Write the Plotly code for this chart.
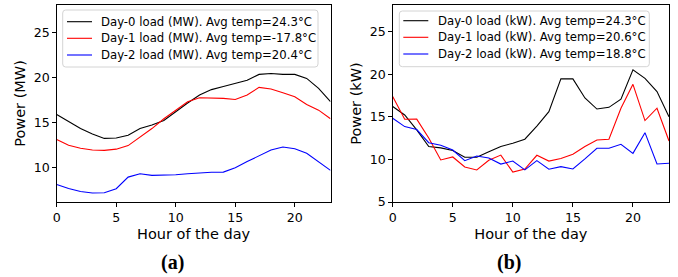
import plotly.graph_objects as go

hours = list(range(24))

# Panel (a) - MW
a_day0 = [15.87, 15.05, 14.3, 13.7, 13.2, 13.25, 13.55, 14.3, 14.7, 15.2, 16.2, 17.15,
          18.05, 18.65, 19.0, 19.35, 19.7, 20.35, 20.45, 20.35, 20.35, 19.9, 18.8, 17.3]
a_day1 = [13.07, 12.43, 12.1, 11.9, 11.87, 12.0, 12.4, 13.3, 14.3, 15.4, 16.4, 17.3,
          17.75, 17.72, 17.67, 17.55, 18.04, 18.9, 18.72, 18.3, 17.85, 17.0, 16.36, 15.4]
a_day2 = [8.06, 7.6, 7.28, 7.1, 7.13, 7.58, 8.88, 9.25, 9.07, 9.07, 9.15, 9.25,
          9.35, 9.42, 9.44, 9.93, 10.62, 11.3, 11.9, 12.24, 12.04, 11.55, 10.6, 9.63]
a_names = ["Day-0 load (MW). Avg temp=24.3°C",
           "Day-1 load (MW). Avg temp=-17.8°C",
           "Day-2 load (MW). Avg temp=20.4°C"]

# Panel (b) - kW
b_day0 = [16.19, 15.2, 13.45, 11.5, 11.35, 11.05, 10.25, 10.25, 10.9, 11.5, 11.9, 12.36,
          13.9, 15.6, 19.44, 19.44, 17.2, 15.9, 16.1, 17.05, 20.5, 19.5, 17.95, 15.0]
b_day1 = [17.36, 14.7, 14.72, 12.5, 9.93, 10.28, 9.1, 8.76, 9.9, 10.5, 8.5, 8.87,
          10.48, 9.8, 10.1, 10.6, 11.5, 12.28, 12.36, 16.0, 18.8, 14.55, 16.0, 12.16]
b_day2 = [14.82, 13.84, 13.5, 11.95, 11.65, 11.1, 9.85, 10.4, 10.15, 9.45, 9.8, 8.76,
          9.85, 8.84, 9.15, 8.87, 10.05, 11.3, 11.3, 11.77, 10.7, 13.13, 9.46, 9.54]
b_names = ["Day-0 load (kW). Avg temp=24.3°C",
           "Day-1 load (kW). Avg temp=20.6°C",
           "Day-2 load (kW). Avg temp=18.8°C"]

colors = ["#000000", "#ff0000", "#0000ff"]
x_ticks = [0, 5, 10, 15, 20]

W, H = 678, 277
T_TOP, T_BOT = 5, 202          # plot area top / bottom in pixels
FONT = "DejaVu Sans"


def px(x):
    return x / W


def py(y):
    return (T_BOT - y) / (T_BOT - T_TOP)


fig = go.Figure()
for ys, nm, c in zip([a_day0, a_day1, a_day2], a_names, colors):
    fig.add_trace(go.Scatter(x=hours, y=ys, mode="lines", name=nm,
                             line=dict(color=c, width=1.1),
                             xaxis="x", yaxis="y", showlegend=False))
for ys, nm, c in zip([b_day0, b_day1, b_day2], b_names, colors):
    fig.add_trace(go.Scatter(x=hours, y=ys, mode="lines", name=nm,
                             line=dict(color=c, width=1.1),
                             xaxis="x2", yaxis="y2", showlegend=False))

axis_common = dict(showline=True, linecolor="black", linewidth=1, mirror=True,
                   ticks="outside", ticklen=3.5, tickcolor="black", tickwidth=1,
                   showgrid=False, zeroline=False,
                   tickfont=dict(family=FONT, size=12.6, color="black"),
                   automargin=False)
title_font = dict(family=FONT, size=14.5, color="black")

shapes = []
annotations = []


def add_legend(box, rows, line_x, text_x, names):
    x0, x1, y0, y1 = box
    r = 3.0
    path = (f"M {px(x0 + r)},{py(y0)} L {px(x1 - r)},{py(y0)} "
            f"Q {px(x1)},{py(y0)} {px(x1)},{py(y0 + r)} "
            f"L {px(x1)},{py(y1 - r)} Q {px(x1)},{py(y1)} {px(x1 - r)},{py(y1)} "
            f"L {px(x0 + r)},{py(y1)} Q {px(x0)},{py(y1)} {px(x0)},{py(y1 - r)} "
            f"L {px(x0)},{py(y0 + r)} Q {px(x0)},{py(y0)} {px(x0 + r)},{py(y0)} Z")
    shapes.append(dict(type="path", path=path, xref="paper", yref="paper",
                       line=dict(color="#d4d4d4", width=1),
                       fillcolor="rgba(255,255,255,0.85)", layer="above"))
    for ry, nm, c in zip(rows, names, colors):
        shapes.append(dict(type="line", xref="paper", yref="paper",
                           x0=px(line_x[0]), x1=px(line_x[1]), y0=py(ry), y1=py(ry),
                           line=dict(color=c, width=1.1), layer="above"))
        annotations.append(dict(text=nm, x=px(text_x), y=py(ry), xref="paper", yref="paper",
                                xanchor="left", yanchor="middle", showarrow=False,
                                font=dict(family=FONT, size=11.7, color="black")))


add_legend((62.7, 318.0, 10.0, 67.0), [21.7, 38.3, 55.0], (67.0, 92.0), 99.0, a_names)
add_legend((399.3, 649.3, 11.0, 66.7), [20.7, 37.3, 54.0], (403.3, 428.3), 435.7, b_names)

for lab, cx in [("<b>(a)</b>", 172.5), ("<b>(b)</b>", 509.0)]:
    annotations.append(dict(text=lab, x=px(cx), y=py(262.5), xref="paper", yref="paper",
                            xanchor="center", yanchor="middle", showarrow=False,
                            font=dict(family="Liberation Serif", size=20, color="black")))

fig.update_layout(
    width=W, height=H,
    margin=dict(l=0, r=0, t=T_TOP, b=H - T_BOT, pad=0),
    paper_bgcolor="white", plot_bgcolor="white",
    showlegend=False,
    xaxis=dict(domain=[px(56.7), px(330.5)], range=[0, 23], tickvals=x_ticks,
               title=dict(text="Hour of the day", font=title_font, standoff=5),
               anchor="y", **axis_common),
    yaxis=dict(domain=[0, 1], range=[6.1, 28.1], tickvals=[10, 15, 20, 25],
               title=dict(text="Power (MW)", font=title_font, standoff=4),
               anchor="x", **axis_common),
    xaxis2=dict(domain=[px(392.7), px(669.0)], range=[0, 23], tickvals=x_ticks,
                title=dict(text="Hour of the day", font=title_font, standoff=5),
                anchor="y2", **axis_common),
    yaxis2=dict(domain=[0, 1], range=[5, 28.1], tickvals=[5, 10, 15, 20, 25],
                title=dict(text="Power (kW)", font=title_font, standoff=4),
                anchor="x2", **axis_common),
    shapes=shapes,
    annotations=annotations,
)

fig.write_html("out.html", config={"displayModeBar": False},
               post_script="document.body.style.margin='0px';")
